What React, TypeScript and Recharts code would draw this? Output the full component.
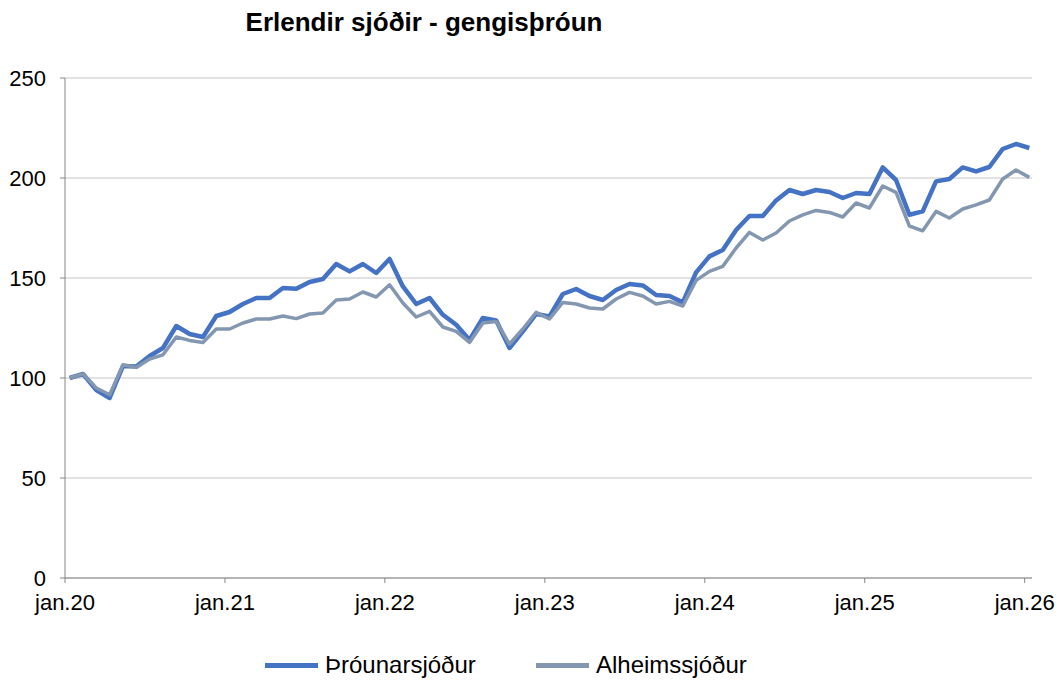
import React from 'react';
import { LineChart, Line, XAxis, YAxis, CartesianGrid, Legend } from 'recharts';

// Monthly index values, jan.20 = 100
const tickLabels = ['jan.20', 'jan.21', 'jan.22', 'jan.23', 'jan.24', 'jan.25', 'jan.26'];

const prounarsjodur = [
  100, 102, 94, 90, 106, 105.8, 111, 115, 126, 122, 120.5, 131,
  133, 137, 140, 140, 145, 144.6, 148, 149.5, 157, 153.3, 157, 152.5,
  159.5, 145.8, 137, 140, 131.6, 126.6, 119, 130, 128.8, 115, 123.3, 132,
  130.8, 142, 144.5, 141, 139, 144, 147, 146.3, 141.5, 141, 137.8, 152.8,
  160.8, 164, 174, 181, 181, 188.8, 194, 192, 194, 193, 190, 192.5,
  192, 205.3, 199, 181.6, 183.3, 198.3, 199.5, 205.3, 203.3, 205.5, 214.5, 217,
  215,
];

const alheimssjodur = [
  100, 102, 95, 91.6, 106.6, 105.3, 109.5, 111.6, 120.5, 118.8, 117.8, 124.5,
  124.5, 127.5, 129.5, 129.5, 131, 129.7, 132, 132.5, 139, 139.5, 143, 140.5,
  146.6, 137.5, 130.5, 133.3, 125.5, 123.3, 117.8, 127.5, 128.3, 117, 124.5, 132.8,
  129.5, 137.8, 137, 135, 134.5, 139.5, 142.8, 141, 137, 138.3, 136, 148.8,
  153.3, 155.8, 165, 172.8, 169, 172.5, 178.5, 181.6, 183.8, 182.8, 180.5, 187.5,
  185, 196, 192.8, 176, 173.6, 183.3, 180, 184.5, 186.6, 189, 199.5, 204,
  200.3,
];

const seriesNames = ['Þróunarsjóður', 'Alheimssjóður'];
const yTicks = [0, 50, 100, 150, 200, 250];

const data = prounarsjodur.map((v, i) => ({ i, proun: v, alheims: alheimssjodur[i] }));

// year ticks sit slightly before the data point of the same month
const xTicks = tickLabels.map((_, k) => k * 12 - 0.35);

const FONT = '"Liberation Sans", Arial, sans-serif';
const BLUE = '#4472C4';
const GRAY = '#8497B0';

function LegendContent(props: any) {
  const items = [...(props?.payload ?? [])].sort(
    (a: any, b: any) => seriesNames.indexOf(a.value) - seriesNames.indexOf(b.value)
  );
  return (
    <div style={{ display: 'flex', alignItems: 'center', height: 26, paddingLeft: 265, fontFamily: FONT }}>
      {items.map((it: any, k: number) => (
        <div key={k} style={{ display: 'flex', alignItems: 'center', width: 271 }}>
          <span style={{ display: 'inline-block', width: 53, height: 5, background: it.color, marginRight: 7 }} />
          <span style={{ fontSize: 24, color: '#000', whiteSpace: 'nowrap' }}>{it.value}</span>
        </div>
      ))}
    </div>
  );
}

export default function App() {
  return (
    <div style={{ position: 'absolute', left: 0, top: 0, width: 1063, height: 683, background: '#fff', fontFamily: FONT }}>
      <div
        style={{
          position: 'absolute',
          left: 0,
          top: 7,
          width: 848,
          textAlign: 'center',
          fontWeight: 'bold',
          fontSize: 26,
          color: '#000',
        }}
      >
        Erlendir sjóðir - gengisþróun
      </div>
      <LineChart width={1063} height={683} data={data} margin={{ top: 78, right: 31, left: 0, bottom: 49 }}>
        <CartesianGrid vertical={false} stroke="#C6C6C6" strokeWidth={1} />
        <XAxis
          dataKey="i"
          type="number"
          domain={[-0.35, 72.2]}
          ticks={xTicks}
          tickFormatter={(v: number) => tickLabels[Math.round((v + 0.35) / 12)] ?? ''}
          allowDataOverflow
          height={30}
          tickSize={5}
          tickMargin={11}
          stroke="#868686"
          tick={{ fontSize: 22, fill: '#000', fontFamily: FONT }}
        />
        <YAxis
          domain={[0, 250]}
          ticks={yTicks}
          width={65}
          tickSize={5}
          tickMargin={14}
          stroke="#868686"
          tick={{ fontSize: 22, fill: '#000', fontFamily: FONT }}
        />
        <Legend verticalAlign="bottom" content={<LegendContent />} wrapperStyle={{ top: 652, bottom: 'auto', left: 0 }} />
        <Line
          name="Þróunarsjóður"
          dataKey="proun"
          type="linear"
          stroke={BLUE}
          strokeWidth={4.5}
          dot={false}
          strokeLinejoin="round"
          isAnimationActive={false}
        />
        <Line
          name="Alheimssjóður"
          dataKey="alheims"
          type="linear"
          stroke={GRAY}
          strokeWidth={3.5}
          dot={false}
          strokeLinejoin="round"
          isAnimationActive={false}
        />
      </LineChart>
    </div>
  );
}
